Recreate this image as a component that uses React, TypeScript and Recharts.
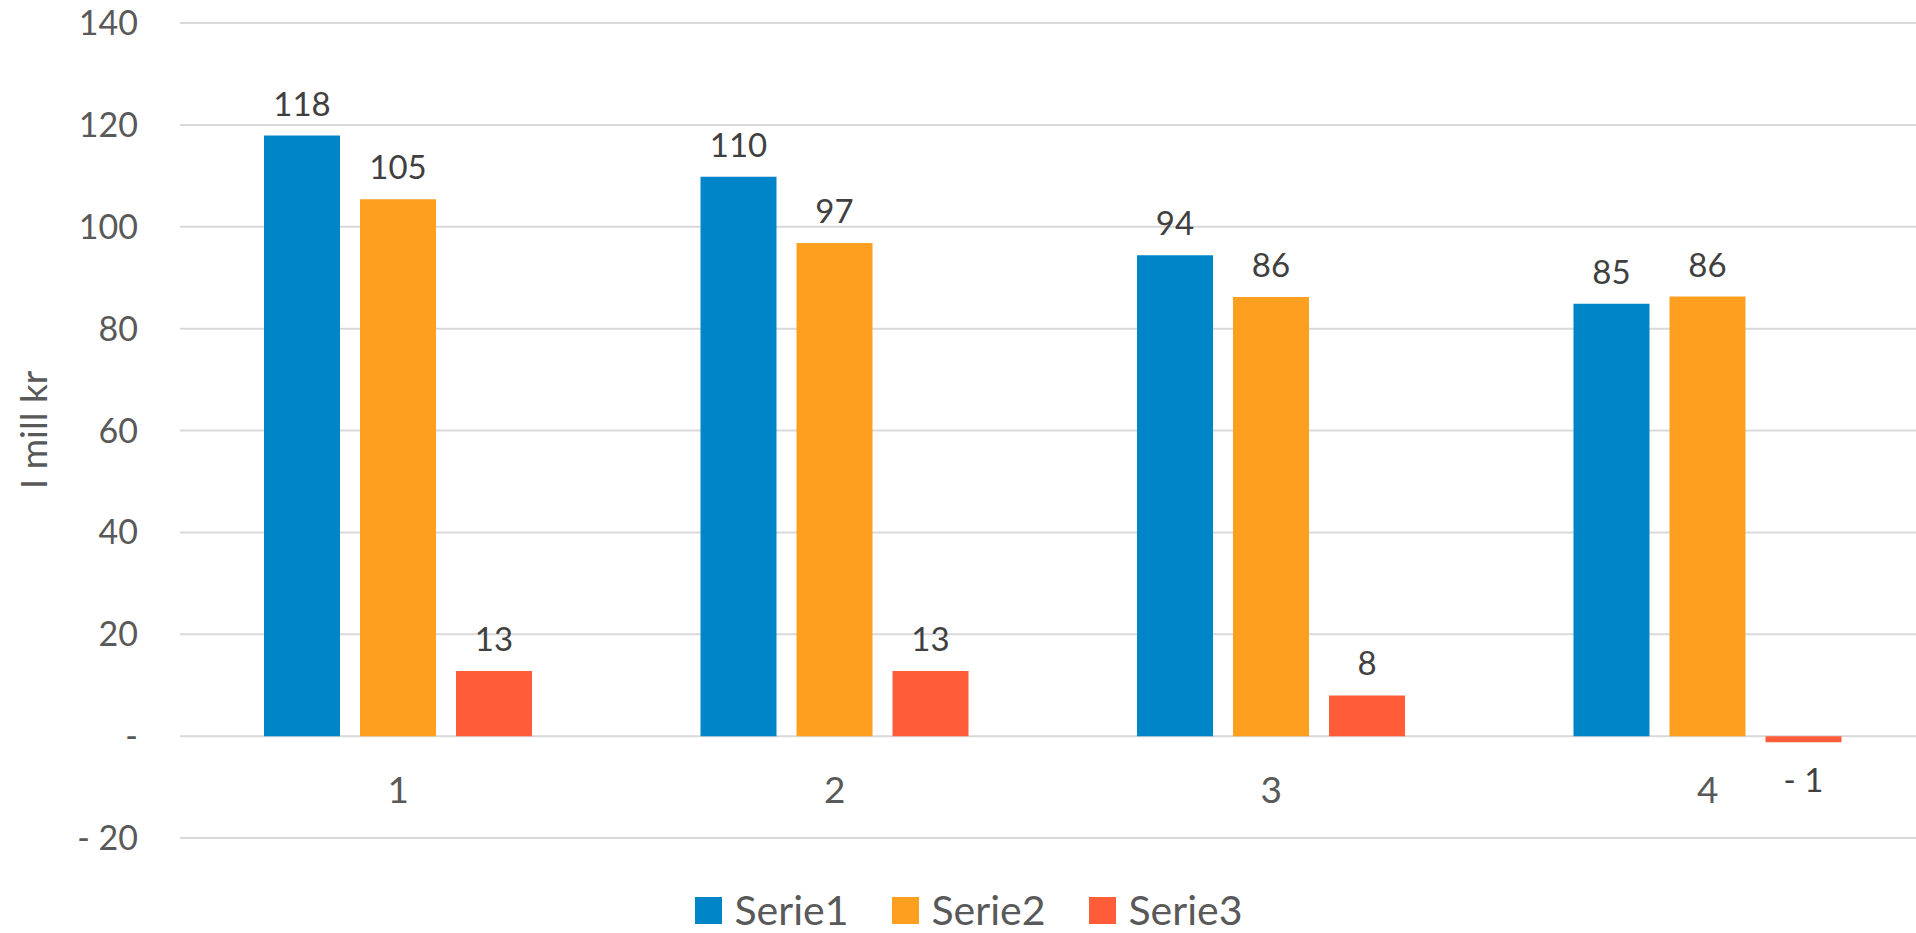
import { BarChart, Bar, XAxis, YAxis, CartesianGrid, Legend, LabelList } from "recharts";

const categories = ["1", "2", "3", "4"];
const serie1 = [117.9, 109.8, 94.4, 84.9];
const serie2 = [105.4, 96.8, 86.2, 86.3];
const serie3 = [12.8, 12.8, 8.0, -1.2];
const yTicks = [-20, 0, 20, 40, 60, 80, 100, 120, 140];

const SERIES = [
  { key: "Serie1", color: "#0085c9" },
  { key: "Serie2", color: "#ff9f1f" },
  { key: "Serie3", color: "#ff5c3a" },
];

const data = categories.map((c, i) => ({
  name: c,
  Serie1: serie1[i],
  Serie2: serie2[i],
  Serie3: serie3[i],
}));

const FONT = "Lato, 'Open Sans', sans-serif";

function fmt(v: number) {
  const r = Math.round(v);
  if (r === 0) return "-";
  if (r < 0) return `- ${Math.abs(r)}`;
  return String(r);
}

function renderLabel(props: any) {
  const vb = props.viewBox || props;
  const x = Number(vb.x);
  const y = Number(vb.y);
  const w = Number(vb.width);
  const h = Number(vb.height);
  const top = Math.min(y, y + h);
  const bottom = Math.max(y, y + h);
  const v = Number(props.value);
  const cx = x + w / 2;
  return (
    <text
      x={cx}
      y={v >= 0 ? top - 20 : bottom + 50}
      textAnchor="middle"
      fill="#404040"
      fontSize={33}
      fontFamily={FONT}
    >
      {fmt(v)}
    </text>
  );
}

// category labels sit under the zero line, like in the original
function XTick({ x, y, payload }: any) {
  return (
    <text x={x} y={y - 35} textAnchor="middle" fill="#595959" fontSize={37} fontFamily={FONT}>
      {payload.value}
    </text>
  );
}

function LegendContent() {
  return (
    <div
      style={{
        height: 40,
        display: "flex",
        justifyContent: "center",
        alignItems: "center",
        paddingLeft: 14,
        fontFamily: FONT,
        fontSize: 41,
        color: "#595959",
      }}
    >
      {SERIES.map((s, i) => (
        <div
          key={s.key}
          style={{
            display: "flex",
            alignItems: "center",
            width: 157,
            marginRight: i < SERIES.length - 1 ? 40 : 0,
            whiteSpace: "nowrap",
          }}
        >
          <span style={{ width: 27, height: 27, background: s.color, marginRight: 13, display: "inline-block" }} />
          <span style={{ lineHeight: "40px" }}>{s.key}</span>
        </div>
      ))}
    </div>
  );
}

export default function App() {
  return (
    <div style={{ position: "absolute", left: 0, top: 0, width: 1916, height: 933, overflow: "hidden", background: "#fff" }}>
      <BarChart
        width={1926}
        height={933}
        data={data}
        margin={{ top: 23, right: 0, bottom: 54, left: 0 }}
        barSize={76}
        barGap={20}
      >
        <CartesianGrid vertical={false} stroke="#d9d9d9" strokeWidth={2} />
        <XAxis dataKey="name" axisLine={false} tickLine={false} tickSize={0} tickMargin={0} tick={<XTick />} height={1} />
        <YAxis
          width={180}
          domain={[-20, 140]}
          ticks={yTicks}
          axisLine={false}
          tickLine={false}
          tickSize={0}
          tickMargin={42}
          tickFormatter={fmt}
          tick={{ fill: "#595959", fontSize: 34, fontFamily: FONT }}
          label={() => (
            <text
              x={32}
              y={430}
              transform="rotate(-90, 32, 430)"
              textAnchor="middle"
              dominantBaseline="central"
              fill="#595959"
              fontSize={37}
              fontFamily={FONT}
            >
              I mill kr
            </text>
          )}
        />
        <Legend verticalAlign="bottom" content={<LegendContent />} wrapperStyle={{ bottom: 3, left: 0, width: 1926 }} />
        {SERIES.map((s) => (
          <Bar key={s.key} dataKey={s.key} fill={s.color} isAnimationActive={false}>
            <LabelList dataKey={s.key} content={renderLabel} />
          </Bar>
        ))}
      </BarChart>
    </div>
  );
}
